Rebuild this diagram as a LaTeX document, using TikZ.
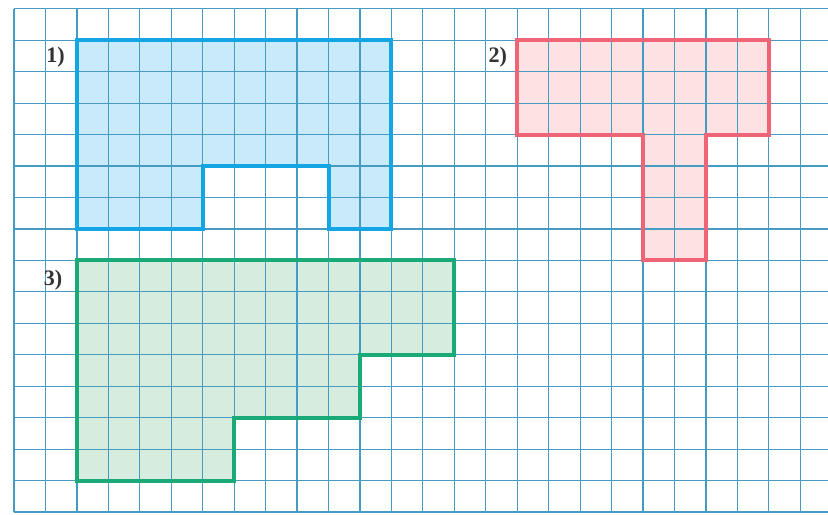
\documentclass[tikz,border=0pt]{standalone}
\usepackage{fontspec}
\setmainfont{Liberation Serif}
\definecolor{gridc}{RGB}{70,155,195}
\definecolor{blueS}{RGB}{20,165,228}
\definecolor{blueF}{RGB}{200,234,250}
\definecolor{pinkS}{RGB}{240,100,120}
\definecolor{pinkF}{RGB}{252,226,226}
\definecolor{greenS}{RGB}{25,170,120}
\definecolor{greenF}{RGB}{214,236,222}
\tikzset{
  gridline/.style={draw=gridc, line width=1.1pt},
  figline/.style={line width=3.6pt, line join=miter},
  lbl/.style={font=\fontsize{20}{20}\selectfont\bfseries, text=black!80, inner sep=0pt}
}
\begin{document}
\begin{tikzpicture}
\useasboundingbox[fill=white] (-0.445,-0.064) rectangle (25.88,16.28);
% fills
\fill[blueF] (2,15) -- (12,15) -- (12,9) -- (10,9) -- (10,11) -- (6,11) -- (6,9) -- (2,9) -- cycle;
\fill[pinkF] (16,15) -- (24,15) -- (24,12) -- (22,12) -- (22,8) -- (20,8) -- (20,12) -- (16,12) -- cycle;
\fill[greenF] (2,8) -- (14,8) -- (14,5) -- (11,5) -- (11,3) -- (7,3) -- (7,1) -- (2,1) -- cycle;
% grid
\foreach \i in {0,...,25} \draw[gridline] (\i,0) -- (\i,16);
\foreach \j in {0,...,16} \draw[gridline] (0,\j) -- (25.88,\j);
% outlines
\draw[figline, draw=blueS] (2,15) -- (12,15) -- (12,9) -- (10,9) -- (10,11) -- (6,11) -- (6,9) -- (2,9) -- cycle;
\draw[figline, draw=pinkS] (16,15) -- (24,15) -- (24,12) -- (22,12) -- (22,8) -- (20,8) -- (20,12) -- (16,12) -- cycle;
\draw[figline, draw=greenS] (2,8) -- (14,8) -- (14,5) -- (11,5) -- (11,3) -- (7,3) -- (7,1) -- (2,1) -- cycle;
% labels
\node[lbl] (l1) at (1.32,14.47) {1)};
\node[lbl] (l2) at (15.38,14.47) {2)};
\node[lbl] (l3) at (1.24,7.38) {3)};
\end{tikzpicture}
\end{document}
